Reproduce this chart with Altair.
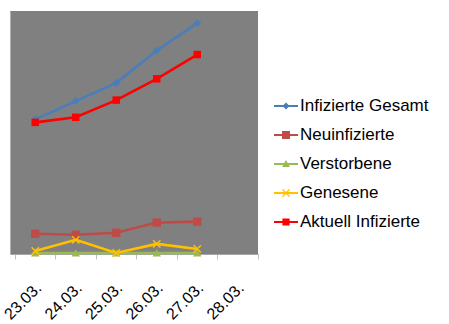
import altair as alt
import pandas as pd

dates = ["23.03.", "24.03.", "25.03.", "26.03.", "27.03.", "28.03."]
series_names = ["Infizierte Gesamt", "Neuinfizierte", "Verstorbene", "Genesene", "Aktuell Infizierte"]
gesamt = [133, 151, 169, 201, 228]
neu = [20, 19, 21, 31, 32]
verstorben = [1, 1, 1, 1, 1]
genesen = [3, 14, 1, 10, 5]
aktuell = [130, 135, 152, 173, 197]
colors = ["#4A7EBB", "#BE4B48", "#98B954", "#FFC000", "#FF0000"]

FONT = "Liberation Sans"

rows = []
for k, (s, vals) in enumerate(zip(series_names, [gesamt, neu, verstorben, genesen, aktuell])):
    for i, v in enumerate(vals):
        rows.append({"series": s, "date": dates[i], "value": v, "order": k})
df = pd.DataFrame(rows)

X_PATH = "M-1,-0.75L-0.75,-1L1,0.75L0.75,1Z M0.75,-1L1,-0.75L-0.75,1L-1,0.75Z"
marker_shapes = ["diamond", "square", "triangle-up", X_PATH, "square"]
marker_sizes = [64, 70, 70, 70, 56]

line_part = "M-1,-0.09H1V0.09H-1Z"
leg_paths = [
    line_part + " M0,-0.3L0.3,0L0,0.3L-0.3,0Z",
    line_part + " M-0.33,-0.33H0.33V0.33H-0.33Z",
    line_part + " M0,-0.33L0.33,0.25H-0.33Z",
    line_part + " M-0.33,-0.25L-0.25,-0.33L0.33,0.25L0.25,0.33Z M0.25,-0.33L0.33,-0.25L-0.25,0.33L-0.33,0.25Z",
    line_part + " M-0.3,-0.3H0.3V0.3H-0.3Z",
]

legend = alt.Legend(
    title=None, orient="none", legendX=264, legendY=83, direction="vertical",
    symbolSize=576, symbolStrokeWidth=0, labelFont=FONT, labelFontSize=17,
    labelColor="#000000", labelOffset=2, rowPadding=9, padding=0, symbolOpacity=1,
)

color_scale = alt.Scale(domain=series_names, range=colors)
xenc = alt.X(
    "date:O",
    scale=alt.Scale(type="band", domain=dates, paddingInner=0, paddingOuter=0.0617, align=1),
    axis=alt.Axis(
        title=None, labelAngle=-45, labelAlign="right", labelBaseline="middle",
        labelFont=FONT, labelFontSize=16, labelColor="#000000", labelPadding=26,
        labelOffset=3, tickBand="extent", tickSize=5, tickColor="#bfbfbf",
        domainColor="#a6a6a6", grid=False,
    ),
)
yenc = alt.Y(
    "value:Q", scale=alt.Scale(domain=[0, 240], nice=False, zero=True),
    axis=alt.Axis(title=None, labels=False, ticks=False, grid=False, domainColor="#b0b0b0"),
)

layers = [
    alt.Chart(df).mark_line(strokeWidth=2.6).encode(
        x=xenc, y=yenc,
        color=alt.Color("series:N", scale=color_scale, legend=legend),
        order=alt.Order("date:O"),
    )
]
for name, shp, sz in zip(series_names, marker_shapes, marker_sizes):
    layers.append(
        alt.Chart(df).transform_filter(alt.datum.series == name)
        .mark_point(filled=True, size=sz, opacity=1, shape=shp)
        .encode(x=xenc, y=yenc, color=alt.Color("series:N", scale=color_scale, legend=legend))
    )
layers.append(
    alt.Chart(df).transform_filter("false").mark_point(filled=True, opacity=1).encode(
        x=xenc, y=yenc,
        color=alt.Color("series:N", scale=color_scale, legend=legend),
        shape=alt.Shape("series:N", scale=alt.Scale(domain=series_names, range=leg_paths), legend=legend),
    )
)

chart = alt.layer(*layers).properties(
    width=248, height=243,
    background="white",
    autosize=alt.AutoSizeParams(type="none"),
    padding={"left": 10, "top": 11, "right": 191, "bottom": 70},
).configure_view(fill="#808080", strokeWidth=0)

chart.save("out.html", embed_options={"renderer": "svg", "actions": False})
